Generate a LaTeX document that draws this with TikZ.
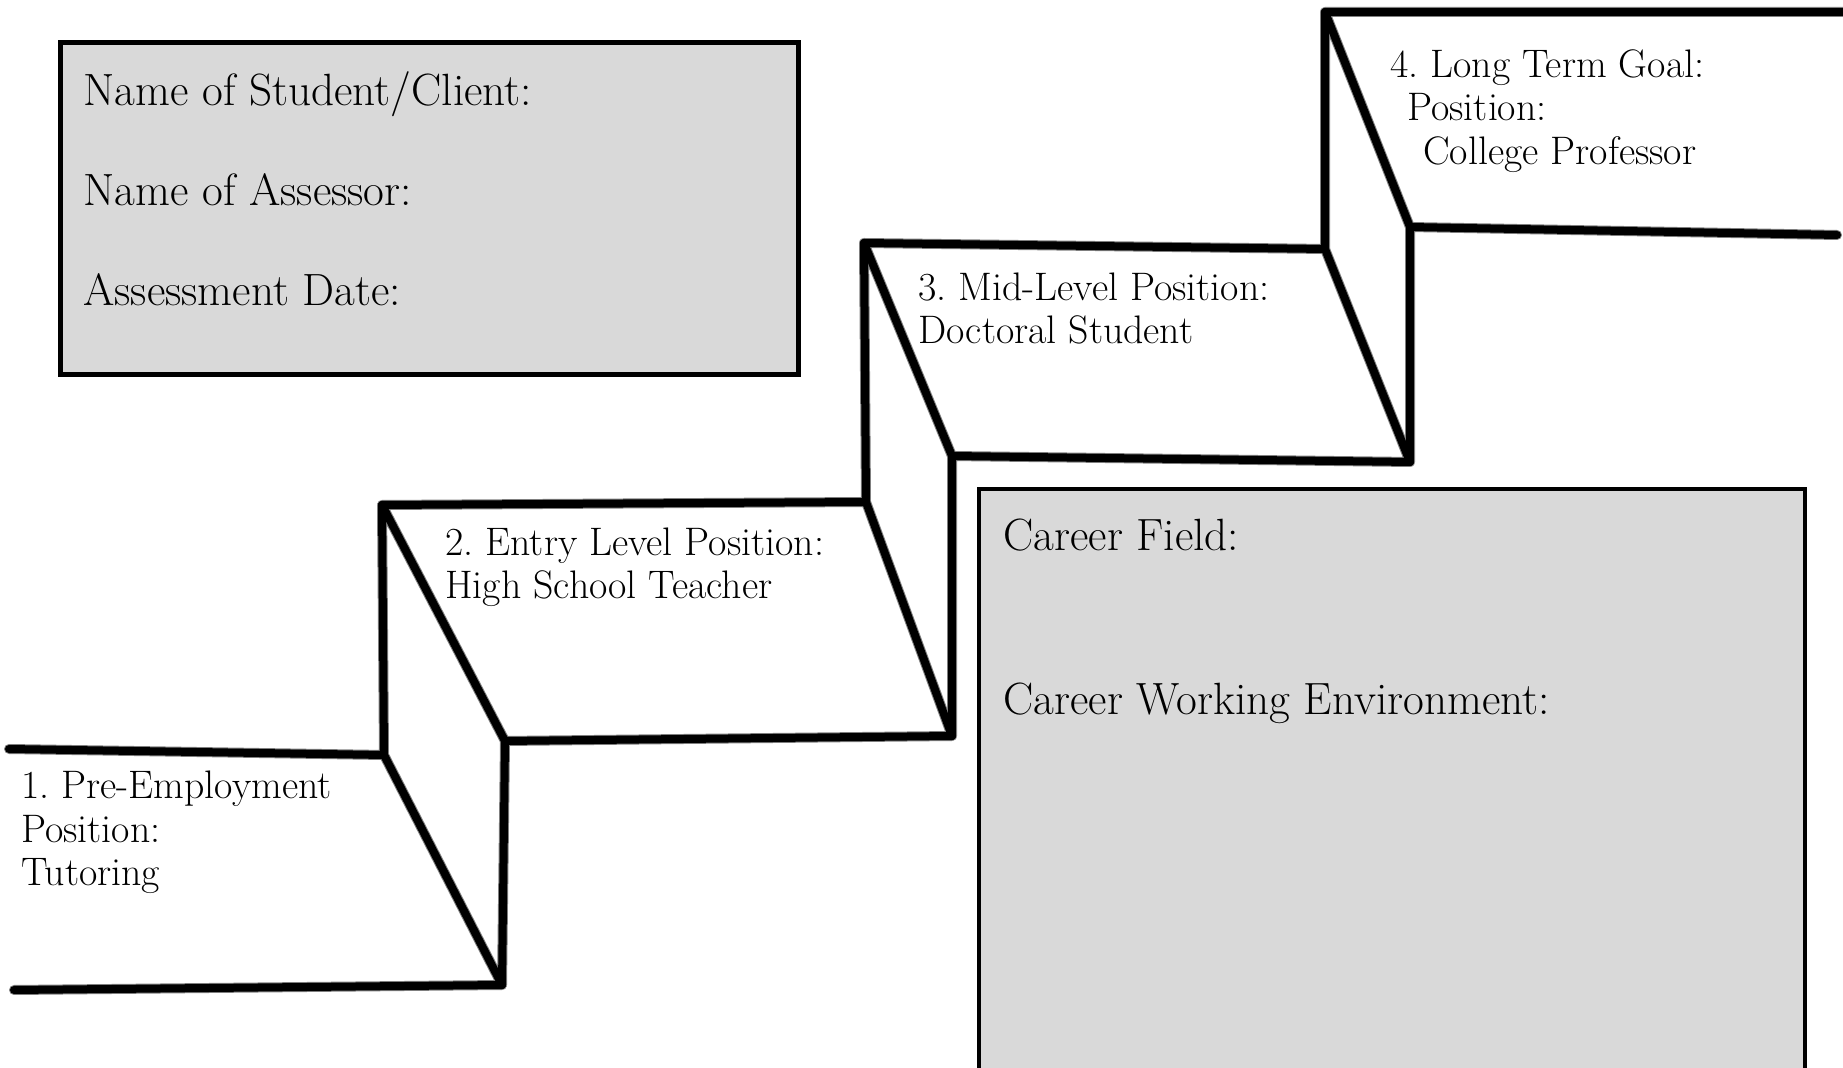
\documentclass[tikz,border=0pt]{standalone}
\usepackage{fontspec}
\frenchspacing
\definecolor{boxgray}{RGB}{217,217,217}
\definecolor{shade}{RGB}{190,190,190}
\tikzset{
  stair/.style={line width=4pt, line cap=round, line join=miter},
  stairshadow/.style={line width=5pt, shade, opacity=0.5, line cap=round},
  infobox/.style={draw=black, fill=boxgray, line width=2.5pt},
  boxtext/.style={anchor=base west, inner sep=0pt, font=\fontsize{22.6}{27}\selectfont},
  steptext/.style={anchor=base west, inner sep=0pt, font=\fontsize{19.9}{24}\selectfont},
}
\begin{document}
\begin{tikzpicture}[x=0.5pt,y=-0.5pt]
\useasboundingbox (0,0) rectangle (1843,1068);
\clip (0,0) rectangle (1843,1068);
% info boxes
\draw[infobox] (60,43) rectangle (798,375);
\node[boxtext] (stu) at (83,106) {Name of Student/Client:};
\node[boxtext] (ass) at (83,206) {Name of Assessor:};
\node[boxtext] (dat) at (83,306) {Assessment Date:};
\draw[infobox, line width=2pt] (979,489) rectangle (1805,1090);
\node[boxtext] (fld) at (1003,551) {Career Field:};
\node[boxtext] (env) at (1003,715) {Career Working Environment:};
% stair coordinates
\coordinate (s1a) at (9,749);
\coordinate (s1b) at (384,755);
\coordinate (s1c) at (14,990);
\coordinate (s1d) at (502,985);
\coordinate (s2a) at (382,505);
\coordinate (s2b) at (505,741);
\coordinate (s2c) at (866,502);
\coordinate (s2d) at (952,736);
\coordinate (s3a) at (864,243);
\coordinate (s3b) at (952,456);
\coordinate (s3c) at (1325,249);
\coordinate (s3d) at (1410,462);
\coordinate (s4a) at (1325,12);
\coordinate (s4b) at (1410,227);
\coordinate (s4c) at (1843,12);
\coordinate (s4d) at (1837,235);
% shadows
\begin{scope}[shift={(3,5)}]
\draw[stairshadow] (s1a) -- (s1b) (s1c) -- (s1d) (s1b) -- (s1d) (s1d) -- (s2b)
  (s1b) -- (s2a) (s2a) -- (s2c) (s2a) -- (s2b) (s2b) -- (s2d) (s2c) -- (s2d)
  (s2d) -- (s3b) (s2c) -- (s3a) (s3a) -- (s3c) (s3a) -- (s3b) (s3b) -- (s3d)
  (s3c) -- (s3d) (s3d) -- (s4b) (s3c) -- (s4a) (s4a) -- (s4c) (s4a) -- (s4b) (s4b) -- (s4d);
\end{scope}
% stairs
\draw[stair] (s1a) -- (s1b);
\draw[stair] (s1c) -- (s1d);
\draw[stair] (s1b) -- (s1d);
\draw[stair] (s1d) -- (s2b);
\draw[stair] (s1b) -- (s2a);
\draw[stair] (s2a) -- (s2c);
\draw[stair] (s2a) -- (s2b);
\draw[stair] (s2b) -- (s2d);
\draw[stair] (s2c) -- (s2d);
\draw[stair] (s2d) -- (s3b);
\draw[stair] (s2c) -- (s3a);
\draw[stair] (s3a) -- (s3c);
\draw[stair] (s3a) -- (s3b);
\draw[stair] (s3b) -- (s3d);
\draw[stair] (s3c) -- (s3d);
\draw[stair] (s3d) -- (s4b);
\draw[stair] (s3c) -- (s4a);
\draw[stair] (s4a) -- (s4c);
\draw[stair] (s4a) -- (s4b);
\draw[stair] (s4b) -- (s4d);
% step labels
\node[steptext] (l1a) at (21,799) {1. Pre-Employment};
\node[steptext] (l1b) at (21,843) {Position:};
\node[steptext] (l1c) at (21,886) {Tutoring};
\node[steptext] (l2a) at (445,556) {2. Entry Level Position:};
\node[steptext] (l2b) at (445,599) {High School Teacher};
\node[steptext] (l3a) at (918,301) {3. Mid-Level Position:};
\node[steptext] (l3b) at (918,344) {Doctoral Student};
\node[steptext] (l4a) at (1390,78) {4. Long Term Goal:};
\node[steptext] (l4b) at (1407,121) {Position:};
\node[steptext] (l4c) at (1423,165) {College Professor};
\end{tikzpicture}
\end{document}
